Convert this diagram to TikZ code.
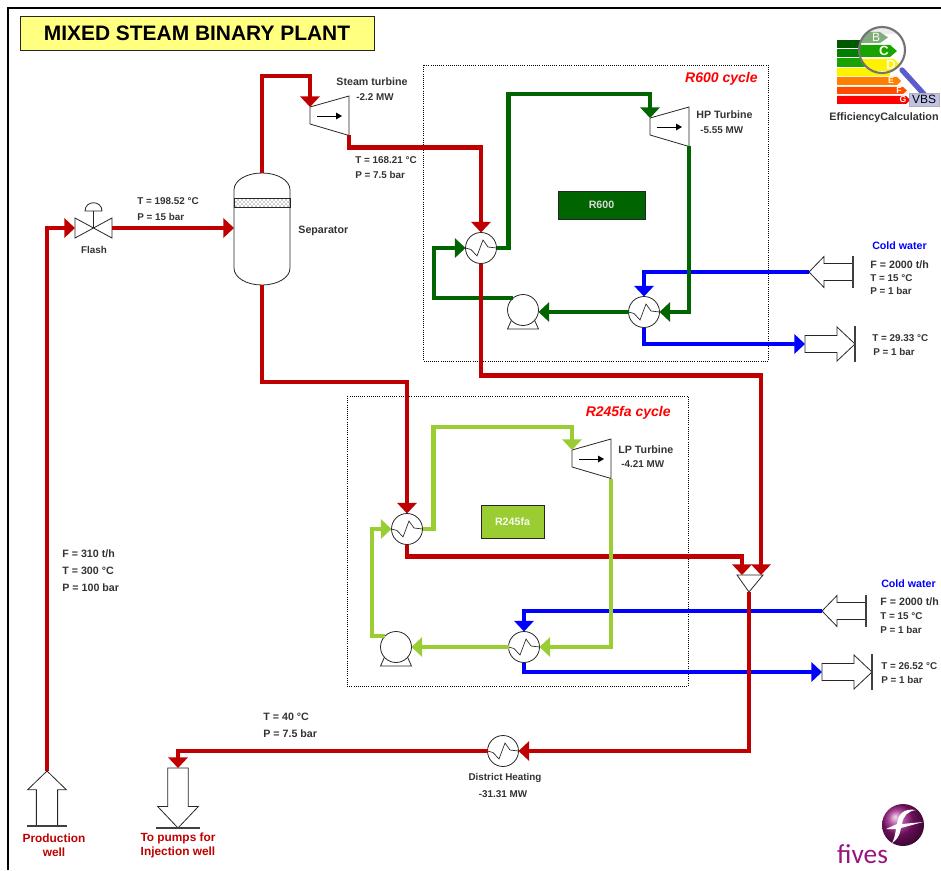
\documentclass[tikz,border=0pt]{standalone}
\usepackage{fontspec}
\setmainfont{Liberation Sans}
\newfontfamily\logofont{Carlito}
\usepackage{tikz}
\usetikzlibrary{
  arrows.meta,  % pipe arrow tips
  calc,         % corner offsets
  patterns      % separator bed
}
\definecolor{steamred}{HTML}{C00000}
\definecolor{hpgreen}{HTML}{006400}
\definecolor{lpgreen}{HTML}{9ACD32}
\definecolor{coldblue}{HTML}{0000FF}
\definecolor{titleyellow}{HTML}{FFFF80}
\definecolor{fivespurple}{HTML}{97157E}
\newcommand{\hxwave}[1]{%
  \draw[line width=0.5pt, shift={(path picture bounding box.center)}, xscale=#1]
    (-15.5,0) -- (-10,1.5) -- (-4,8) -- (2,-8) -- (7,-1) -- (15.5,0);}
\tikzset{
  pipe/.style={
    -{Triangle[length=8pt,width=14.5pt]},
    line width=3.2pt
  },
  steam pipe/.style={pipe, color=steamred},
  hp pipe/.style={pipe, color=hpgreen},
  lp pipe/.style={pipe, color=lpgreen},
  cold pipe/.style={pipe, color=coldblue},
  equip/.style={draw=black!85, fill=white, line width=0.6pt},
  hx/.style={
    circle, equip,
    inner sep=0pt, outer sep=0pt,
    minimum size=23.25pt,
    path picture={\hxwave{1}}
  },
  hx flip/.style={hx, path picture={\hxwave{-1}}},
  pump body/.style={
    circle, equip,
    inner sep=0pt, outer sep=0pt,
    minimum size=23.25pt
  },
  tag/.style={
    font=\bfseries\fontsize{7.4}{9}\selectfont,
    text=black!80,
    inner sep=0pt,
    anchor=west
  },
  tag big/.style={tag, font=\bfseries\fontsize{8}{9}\selectfont},
  tag mid/.style={tag, anchor=center, align=center},
  well tag/.style={tag mid, text=steamred, font=\bfseries\fontsize{8.9}{10.5}\selectfont},
  cold tag/.style={tag mid, text=coldblue, font=\bfseries\fontsize{8}{9}\selectfont},
  cycle tag/.style={
    font=\bfseries\itshape\fontsize{10.5}{12}\selectfont,
    text=red,
    inner sep=0pt,
    anchor=east
  },
  fluid box/.style={
    draw=black!85, line width=0.6pt,
    text=white!85!black,
    font=\bfseries\fontsize{8}{10}\selectfont,
    inner sep=0pt, outer sep=0pt
  },
  cycle box/.style={draw=black, line width=0.6pt, densely dotted},
  bar tag/.style={text=white!90!yellow, inner sep=0pt, font=\bfseries\fontsize{6.5}{8}\selectfont},
  % turbine, inlet on the narrow side
  pics/turbine/.style={code={
    \draw[equip] (0,0) -- (39,-11) -- (39,28.5) -- (0,17) -- cycle;
    \draw[black, line width=0.6pt, -{Triangle[length=4.5pt,width=5pt]}] (7,9) -- (32,9);
    \coordinate (-in) at (0,0);
    \coordinate (-out) at (39,28.5);
  }},
  % pump body with its foot
  pics/pump/.style={code={
    \draw[equip] (-11,9) -- (-15.5,19) -- (15.5,19) -- (11,9);
    \node[pump body] (-body) at (0,0) {};
  }},
  % arrow block, tip on the feed side
  pics/inlet block/.style={code={
    \draw[equip] (44,-8.5) -- (15,-8.5) -- (15,-15.5) -- (0,0) -- (15,15.5) -- (15,8.5) -- (44,8.5);
    \draw[black!75, line width=0.8pt] (44,-16) -- (44,16);
    \coordinate (-tip) at (0,0);
  }},
  % arrow block, tip against the bar
  pics/outlet block/.style={code={
    \draw[equip] (0,-8.5) -- (32,-8.5) -- (32,-17) -- (50,0) -- (32,17) -- (32,8.5) -- (0,8.5) -- cycle;
    \draw[black!75, line width=0.8pt] (50,-18) -- (50,18);
    \coordinate (-tail) at (0,0);
  }}
}

\begin{document}
\begin{tikzpicture}[x=0.75pt, y=-0.75pt, line width=0.6pt]
  \useasboundingbox (0,0) rectangle (941,870);

  % ======================= frame and title =======================
  \draw[black, line width=0.8pt] (8,870) -- (8,8) -- (941,8);
  \node[draw=black!85, fill=titleyellow, line width=0.7pt, minimum width=265.5pt, minimum height=26pt,
    inner sep=0pt, font=\bfseries\fontsize{15.7}{17}\selectfont] (title) at (197,33.5)
    {MIXED STEAM BINARY PLANT};

  % ======================= cycle boxes =======================
  \draw[cycle box] (423,65) rectangle (768,361);
  \draw[cycle box] (347,396) rectangle (688,686);
  \node[cycle tag] (hpcycle) at (758,79) {R600 cycle};
  \node[cycle tag] (lpcycle) at (671,413) {R245fa cycle};
  \node[fluid box, fill=hpgreen, minimum width=65.25pt, minimum height=21pt] (hpfluid) at (601.5,205) {R600};
  \node[fluid box, fill=lpgreen, text=white!92!lpgreen, minimum width=47.25pt, minimum height=24.75pt] (lpfluid) at (512.5,521.5) {R245fa};

  % ======================= equipment =======================
  \node[hx] (hxa) at (481,248) {};
  \node[hx flip] (hxb) at (644,312) {};
  \node[hx] (hxc) at (407,529) {};
  \node[hx flip] (hxd) at (524,647) {};
  \node[hx] (hxheat) at (503,751) {};

  \pic (turbst) at (310,107) {turbine};
  \pic (turbhp) at (650,118) {turbine};
  \pic (turblp) at (572,450) {turbine};
  \pic (pumpa) at (523,310) {pump};
  \pic (pumpb) at (396,647) {pump};

  % valve
  \draw[equip] (75,218) -- (112,238) -- (112,218) -- (75,238) -- cycle;
  \draw[black!85, line width=0.6pt] (93.5,228) -- (93.5,211);
  \draw[equip] (85,211) .. controls (85,200) and (102,200) .. (102,211) -- cycle;
  \coordinate (flashin) at (75,228);
  \coordinate (flashout) at (112,228);

  % separator
  \draw[equip] (234,190) .. controls (234,180) and (247,173) .. (262,173)
    .. controls (277,173) and (290,180) .. (290,190) -- (290,268)
    .. controls (290,278) and (277,285) .. (262,285)
    .. controls (247,285) and (234,278) .. (234,268) -- cycle;
  \draw[equip, pattern=crosshatch dots, pattern color=black!80] (234,198) rectangle (290,207);
  \coordinate (septop) at (262,173);
  \coordinate (sepbot) at (262,285);
  \coordinate (sepin) at (234,228);

  % mixer
  \draw[equip] (737,575) -- (763,575) -- (749,592) -- cycle;
  \coordinate (mixa) at (742,575);
  \coordinate (mixb) at (761,575);
  \coordinate (mixout) at (749,592);

  % boundary arrows
  \pic (coldina) at (809,272) {inlet block};
  \pic (coldouta) at (805,344) {outlet block};
  \pic (coldinb) at (822,611) {inlet block};
  \pic (coldoutb) at (822,672) {outlet block};
  \pic[scale=1.25, rotate=-90] (prodwell) at (47,771) {inlet block};
  \pic[scale=1.2, rotate=-90] (injwell) at (178,768) {outlet block};

  % ======================= cold water =======================
  \draw[cold pipe] (coldina-tip) -| (hxb.north);
  \draw[cold pipe] (hxb.south) |- (coldouta-tail);
  \draw[cold pipe] (coldinb-tip) -| (hxd.north);
  \draw[cold pipe] (hxd.south) |- (coldoutb-tail);

  % ======================= R600 loop =======================
  \draw[hp pipe] (hxa.east) -- ++(12,0) |- ($(turbhp-in)+(0,-24)$) -- (turbhp-in);
  \draw[hp pipe] (turbhp-out) |- (hxb.east);
  \draw[hp pipe] (hxb.west) -- (hxb.west -| pumpa-body.east);
  \draw[hp pipe] (pumpa-body.130) -- ++(-79,0) |- (hxa.west);

  % ======================= steam and brine =======================
  \draw[steam pipe] (prodwell-tip) |- (flashin);
  \draw[steam pipe] (flashout) -- (sepin);
  \draw[steam pipe] (septop) -- ++(0,-97) -| (turbst-in);
  \draw[steam pipe] (turbst-out) -- ++(0,12) -| (hxa.north);
  \draw[steam pipe] (hxa.south) -- ++(0,112) -| (mixb);
  \draw[steam pipe] (sepbot) -- ++(0,97) -| (hxc.north);
  \draw[steam pipe] (hxc.south) -- ++(0,12) -| (mixa);
  \draw[steam pipe] (mixout) |- (hxheat.east);
  \draw[steam pipe] (hxheat.west) -| (injwell-tail);

  % ======================= R245fa loop =======================
  \draw[lp pipe] (hxc.east) -- ++(11,0) |- ($(turblp-in)+(0,-23)$) -- (turblp-in);
  \draw[lp pipe] (turblp-out) |- (hxd.east);
  \draw[lp pipe] (hxd.west) -- (pumpb-body.east);
  \draw[lp pipe] (pumpb-body.135) -- ++(-13,0) |- (hxc.west);

  % ======================= labels =======================
  \node[tag] (tflash) at (137,201) {T = 198.52 °C};
  \node[tag] (pflash) at (137,217) {P = 15 bar};
  \node[tag mid] (flash) at (94,250) {Flash};
  \node[tag big] (sep) at (298,231) {Separator};
  \node[tag big] (stname) at (336,81.5) {Steam turbine};
  \node[tag] (stpower) at (356,97) {-2.2 MW};
  \node[tag] (tst) at (355,160) {T = 168.21 °C};
  \node[tag] (pst) at (355,175) {P = 7.5 bar};
  \node[tag big] (hpname) at (696,115) {HP Turbine};
  \node[tag] (hppower) at (700,130) {-5.55 MW};
  \node[tag big] (lpname) at (618,450) {LP Turbine};
  \node[tag] (lppower) at (621,464) {-4.21 MW};
  \node[cold tag] (colda) at (899.5,246) {Cold water};
  \node[tag big] (fa) at (870,265) {F = 2000 t/h};
  \node[tag] (ta) at (870,278) {T = 15 °C};
  \node[tag] (pa) at (870,291) {P = 1 bar};
  \node[tag] (toa) at (872,338) {T = 29.33 °C};
  \node[tag] (poa) at (873,352) {P = 1 bar};
  \node[cold tag] (coldb) at (908.5,584) {Cold water};
  \node[tag big] (fb) at (880,602) {F = 2000 t/h};
  \node[tag] (tb) at (880,616) {T = 15 °C};
  \node[tag] (pb) at (880,630) {P = 1 bar};
  \node[tag] (tob) at (881,666) {T = 26.52 °C};
  \node[tag] (pob) at (881,680) {P = 1 bar};
  \node[tag big] (fwell) at (62,554) {F = 310 t/h};
  \node[tag big] (twell) at (62,571) {T = 300 °C};
  \node[tag big] (pwell) at (62,588) {P = 100 bar};
  \node[tag big] (tinj) at (263,717) {T = 40 °C};
  \node[tag big] (pinj) at (263,734) {P = 7.5 bar};
  \node[tag mid] (heatname) at (505,778) {District Heating};
  \node[tag mid] (heatpower) at (503,794) {-31.31 MW};
  \node[well tag] (prodtag) at (54,845.5) {Production\\well};
  \node[well tag] (injtag) at (178,845.5) {To pumps for\\Injection well};

  % ======================= efficiency icon =======================
  \fill[green!35!black] (837,40) rectangle (866,48);
  \fill[green!50!black] (837,49) rectangle (866,57);
  \fill[green!60!black!90!yellow] (837,58) rectangle (866,67);
  \fill[yellow] (837,68) rectangle (890,76);
  \fill[orange] (837,77) -- (897,77) -- (901,81) -- (897,85) -- (837,85) -- cycle;
  \fill[orange!60!red] (837,87) -- (903,87) -- (907,90.5) -- (903,94) -- (837,94) -- cycle;
  \fill[red] (837,96) -- (906,96) -- (910,100) -- (906,104) -- (837,104) -- cycle;
  \node[bar tag] (bare) at (891,81) {E};
  \node[bar tag] (barf) at (899,90.5) {F};
  \node[bar tag] (barg) at (903,100) {G};
  \draw[blue!55!white!80!black, line width=4pt, line cap=round] (902,70) -- (932,103);
  \fill[white] (882,50) circle[radius=23];
  \begin{scope}
    \clip (882,50) circle[radius=23];
    \fill[black!8] (858,26) rectangle (906,34);
    \fill[green!35!black!50!white] (858,32) -- (880,32) -- (888,37.5) -- (880,43) -- (858,43) -- cycle;
    \fill[green!60!black!90!yellow] (858,45) -- (890,45) -- (897,51) -- (890,57) -- (858,57) -- cycle;
    \fill[yellow] (858,59) -- (894,59) -- (900,65) -- (894,71) -- (858,71) -- cycle;
  \end{scope}
  \node[bar tag, font=\fontsize{9}{10}\selectfont] (barb) at (876,37.5) {B};
  \node[bar tag, font=\bfseries\fontsize{10}{11}\selectfont] (barc) at (884,51) {C};
  \node[bar tag, font=\bfseries\fontsize{10}{11}\selectfont] (bard) at (891,65) {D};
  \draw[black!55, line width=1.6pt] (882,50) circle[radius=23];
  \node[draw=black!30, fill=cyan!25!blue!25!white, inner sep=0pt, minimum width=22.5pt, minimum height=9.75pt,
    font=\fontsize{9}{10}\selectfont] (vbs) at (924,99.5) {VBS};
  \node[tag mid, font=\bfseries\fontsize{8.1}{9}\selectfont] (effname) at (884,118) {EfficiencyCalculation};

  % ======================= logo =======================
  \shade[ball color=fivespurple] (903,825) circle[radius=21];
  \fill[white] (916,810) .. controls (904,808) and (898,814) .. (897,824)
    -- (886,829) -- (896,829) .. controls (895,835) and (894,840) .. (892,843)
    .. controls (897,840) and (900,835) .. (901,828) -- (923,822) -- (902,824)
    .. controls (903,816) and (908,811) .. (916,810) -- cycle;
  \node[inner sep=0pt, anchor=base, text=fivespurple, font=\logofont\fontsize{20.5}{21}\selectfont] (fives) at (862.5,863) {fives};

\end{tikzpicture}
\end{document}
